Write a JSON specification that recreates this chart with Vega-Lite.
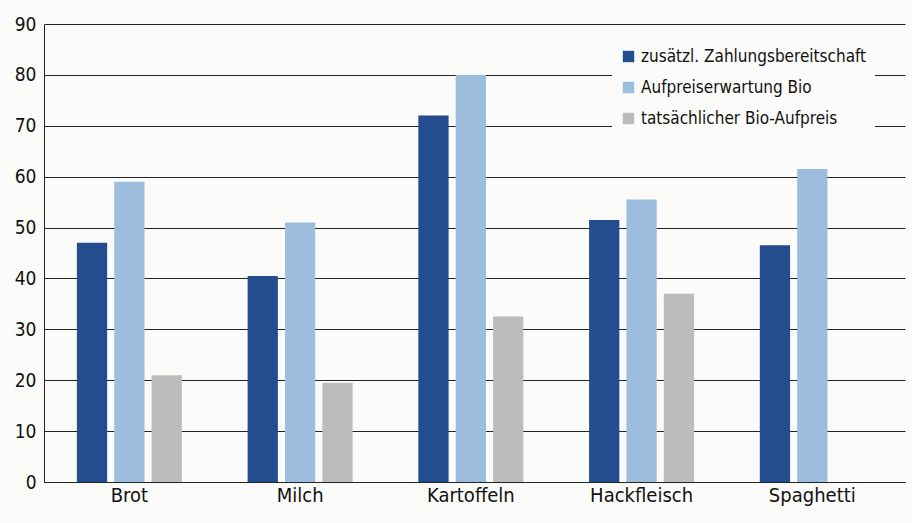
{
  "$schema": "https://vega.github.io/schema/vega-lite/v6.json",
  "width": 861,
  "height": 458,
  "autosize": {"type": "none"},
  "padding": {"left": 44, "top": 24, "right": 7, "bottom": 41},
  "background": "#fbfbf9",
  "config": {
    "font": "DejaVu Sans Condensed, Roboto, sans-serif",
    "view": {"stroke": null}
  },
  "data": {
    "values": [
      {"Produkt": "Brot", "Reihe": "zusätzl. Zahlungsbereitschaft", "Wert": 47},
      {"Produkt": "Brot", "Reihe": "Aufpreiserwartung Bio", "Wert": 59},
      {"Produkt": "Brot", "Reihe": "tatsächlicher Bio-Aufpreis", "Wert": 21},
      {"Produkt": "Milch", "Reihe": "zusätzl. Zahlungsbereitschaft", "Wert": 40.5},
      {"Produkt": "Milch", "Reihe": "Aufpreiserwartung Bio", "Wert": 51},
      {"Produkt": "Milch", "Reihe": "tatsächlicher Bio-Aufpreis", "Wert": 19.5},
      {"Produkt": "Kartoffeln", "Reihe": "zusätzl. Zahlungsbereitschaft", "Wert": 72},
      {"Produkt": "Kartoffeln", "Reihe": "Aufpreiserwartung Bio", "Wert": 80},
      {"Produkt": "Kartoffeln", "Reihe": "tatsächlicher Bio-Aufpreis", "Wert": 32.5},
      {"Produkt": "Hackfleisch", "Reihe": "zusätzl. Zahlungsbereitschaft", "Wert": 51.5},
      {"Produkt": "Hackfleisch", "Reihe": "Aufpreiserwartung Bio", "Wert": 55.5},
      {"Produkt": "Hackfleisch", "Reihe": "tatsächlicher Bio-Aufpreis", "Wert": 37},
      {"Produkt": "Spaghetti", "Reihe": "zusätzl. Zahlungsbereitschaft", "Wert": 46.5},
      {"Produkt": "Spaghetti", "Reihe": "Aufpreiserwartung Bio", "Wert": 61.5}
    ]
  },
  "mark": {"type": "bar"},
  "encoding": {
    "x": {
      "field": "Produkt",
      "type": "nominal",
      "sort": ["Brot", "Milch", "Kartoffeln", "Hackfleisch", "Spaghetti"],
      "scale": {"paddingInner": 0.385, "paddingOuter": 0.214, "align": 0.45},
      "axis": {
        "title": null,
        "labelAngle": 0,
        "labelFontSize": 20,
        "labelColor": "#111",
        "labelPadding": 3,
        "ticks": false,
        "domain": true,
        "domainColor": "#222",
        "domainWidth": 1.2
      }
    },
    "xOffset": {
      "field": "Reihe",
      "type": "nominal",
      "sort": ["zusätzl. Zahlungsbereitschaft", "Aufpreiserwartung Bio", "tatsächlicher Bio-Aufpreis"],
      "scale": {"paddingInner": 0.19, "paddingOuter": 0}
    },
    "y": {
      "field": "Wert",
      "type": "quantitative",
      "scale": {"domain": [0, 90]},
      "axis": {
        "title": null,
        "values": [0, 10, 20, 30, 40, 50, 60, 70, 80, 90],
        "labelFontSize": 19,
        "labelColor": "#111",
        "labelPadding": 8,
        "ticks": false,
        "domain": true,
        "domainColor": "#222",
        "gridColor": "#222",
        "gridWidth": 1,
        "gridOpacity": 1
      }
    },
    "color": {
      "field": "Reihe",
      "type": "nominal",
      "sort": ["zusätzl. Zahlungsbereitschaft", "Aufpreiserwartung Bio", "tatsächlicher Bio-Aufpreis"],
      "scale": {
        "domain": ["zusätzl. Zahlungsbereitschaft", "Aufpreiserwartung Bio", "tatsächlicher Bio-Aufpreis"],
        "range": ["#234d8f", "#9dbddd", "#bcbcbc"]
      },
      "legend": {
        "title": null,
        "orient": "none",
        "legendX": 568,
        "legendY": 16,
        "fillColor": "#fbfbf9",
        "padding": 8,
        "symbolType": "square",
        "symbolSize": 130,
        "symbolStrokeWidth": 0,
        "labelFontSize": 17,
        "labelColor": "#111",
        "labelLimit": 400,
        "rowPadding": 13
      }
    }
  }
}
